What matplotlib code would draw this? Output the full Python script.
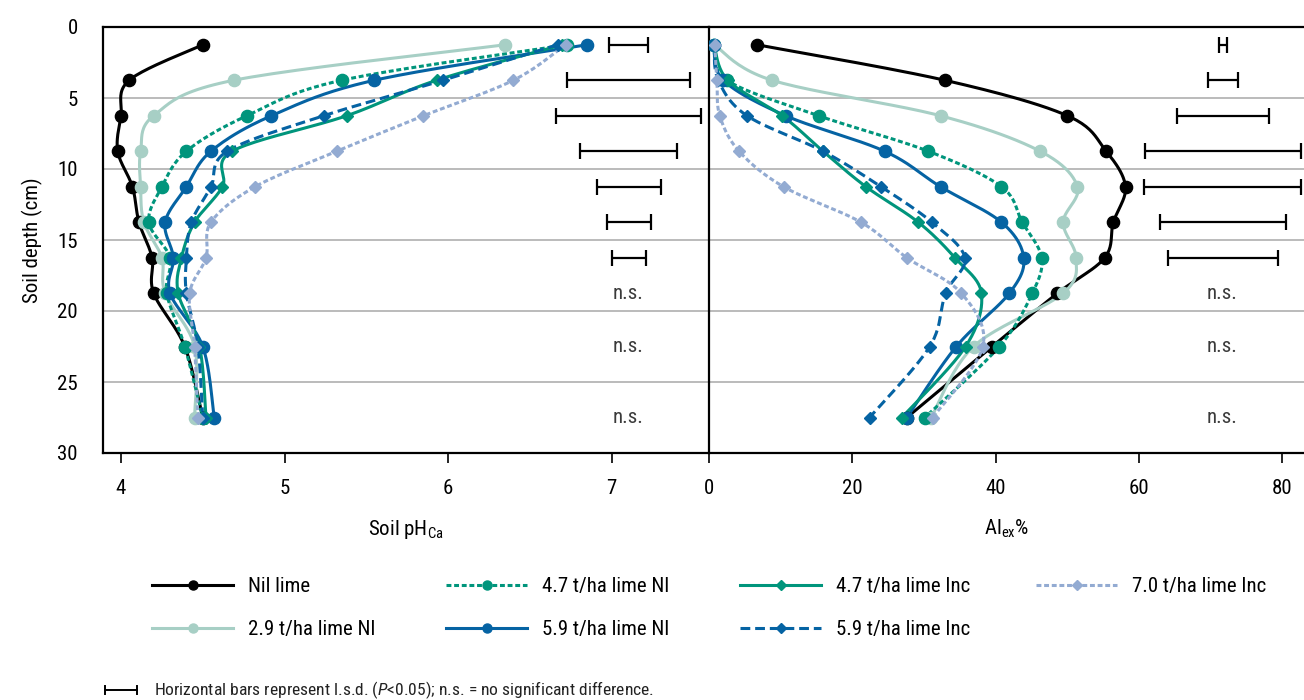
import numpy as np
import matplotlib
matplotlib.use("Agg")
import matplotlib.pyplot as plt
from matplotlib.lines import Line2D
from matplotlib import font_manager

# Prefer a narrow face when one is installed
_names = {f.name for f in font_manager.fontManager.ttflist}
_narrow = [n for n in ("Liberation Sans Narrow", "DejaVu Sans Condensed", "Roboto Condensed",
                       "Open Sans Condensed") if n in _names]
plt.rcParams["font.family"] = _narrow + ["DejaVu Sans"]
plt.rcParams["font.stretch"] = "condensed"
plt.rcParams["mathtext.fontset"] = "custom"
plt.rcParams["mathtext.rm"] = (_narrow + ["DejaVu Sans"])[0]
plt.rcParams["mathtext.it"] = (_narrow + ["DejaVu Sans"])[0] + ":italic"

# Sampling depths (cm)
depth = [1.25, 3.75, 6.25, 8.75, 11.25, 13.75, 16.25, 18.75, 22.5, 27.5]

# Soil pH (CaCl2) profiles
ph_nil = [4.50, 4.05, 4.00, 3.98, 4.07, 4.11, 4.19, 4.20, 4.39, 4.50]
ph_29ni = [6.35, 4.69, 4.20, 4.12, 4.12, 4.14, 4.25, 4.27, 4.45, 4.45]
ph_47ni = [6.73, 5.35, 4.77, 4.40, 4.25, 4.17, 4.30, 4.28, 4.39, 4.50]
ph_59ni = [6.85, 5.55, 4.92, 4.55, 4.40, 4.27, 4.32, 4.30, 4.50, 4.57]
ph_47inc = [6.70, 5.93, 5.38, 4.68, 4.62, 4.45, 4.37, 4.35, 4.48, 4.52]
ph_59inc = [6.67, 5.97, 5.24, 4.65, 4.55, 4.43, 4.40, 4.40, 4.47, 4.50]
ph_70inc = [6.72, 6.40, 5.85, 5.32, 4.82, 4.55, 4.52, 4.42, 4.45, 4.47]

# Exchangeable aluminium (%) profiles
al_nil = [6.7, 32.9, 50.0, 55.4, 58.1, 56.4, 55.2, 48.6, 39.5, 27.6]
al_29ni = [0.7, 8.8, 32.3, 46.2, 51.4, 49.4, 51.2, 49.4, 36.9, 31.0]
al_47ni = [0.7, 2.5, 15.3, 30.6, 40.8, 43.7, 46.4, 45.1, 40.5, 30.1]
al_59ni = [0.7, 2.0, 10.7, 24.5, 32.3, 40.8, 43.9, 41.9, 34.5, 27.6]
al_47inc = [0.7, 2.6, 10.2, 15.9, 21.9, 29.2, 34.3, 38.0, 35.8, 26.9]
al_59inc = [0.7, 1.3, 5.3, 15.9, 24.0, 31.1, 35.7, 33.0, 30.8, 22.4]
al_70inc = [0.8, 1.1, 1.5, 4.2, 10.4, 21.2, 27.6, 35.2, 38.2, 31.2]

# Least significant differences for the upper seven depths
lsd_depth = [1.25, 3.75, 6.25, 8.75, 11.25, 13.75, 16.25]
lsd_ph = [0.24, 0.75, 0.89, 0.59, 0.39, 0.27, 0.21]
lsd_al = [1.1, 4.1, 12.8, 21.8, 21.9, 17.6, 15.4]
ns_depth = [18.75, 22.5, 27.5]

labels = ["Nil lime", "2.9 t/ha lime NI", "4.7 t/ha lime NI", "5.9 t/ha lime NI",
          "4.7 t/ha lime Inc", "5.9 t/ha lime Inc", "7.0 t/ha lime Inc"]

styles = [
    dict(color="#000000", ls="-", marker="o"),
    dict(color="#a7cfc5", ls="-", marker="o"),
    dict(color="#00957c", ls=(0, (1.6, 0.9)), marker="o"),
    dict(color="#0563a3", ls="-", marker="o"),
    dict(color="#00957c", ls="-", marker="D"),
    dict(color="#0563a3", ls=(0, (3.2, 1.6)), marker="D"),
    dict(color="#93abd2", ls=(0, (1.6, 0.9)), marker="D"),
]

ph_series = [ph_nil, ph_29ni, ph_47ni, ph_59ni, ph_47inc, ph_59inc, ph_70inc]
al_series = [al_nil, al_29ni, al_47ni, al_59ni, al_47inc, al_59inc, al_70inc]


def smooth_path(x, y, n=24):
    """Cubic Bezier smoothing through every point (Catmull-Rom style)."""
    p = np.column_stack([x, y]).astype(float)
    ext = np.vstack([p[0], p, p[-1]])
    out = [p[:1]]
    t = np.linspace(0, 1, n)[1:, None]
    for i in range(len(p) - 1):
        p0, p1, p2, p3 = ext[i], ext[i + 1], ext[i + 2], ext[i + 3]
        c1 = p1 + (p2 - p0) / 6.0
        c2 = p2 - (p3 - p1) / 6.0
        seg = ((1 - t) ** 3) * p1 + 3 * ((1 - t) ** 2) * t * c1 + 3 * (1 - t) * t ** 2 * c2 + t ** 3 * p2
        out.append(seg)
    q = np.vstack(out)
    return q[:, 0], q[:, 1]


fig = plt.figure(figsize=(13.04, 7.0), dpi=100)
W, H = 1304.0, 700.0
axL = fig.add_axes([103 / W, 1 - 453 / H, 606 / W, 426 / H])
axR = fig.add_axes([709 / W, 1 - 453 / H, 595 / W, 426 / H], sharey=axL)

FS = 15
ms = {"o": 8.8, "D": 6.6}
for ax, series in ((axL, ph_series), (axR, al_series)):
    for vals, st in zip(series, styles):
        sx, sy = smooth_path(vals, depth)
        ax.plot(sx, sy, color=st["color"], ls=st["ls"], lw=2.2, zorder=3,
                solid_capstyle="butt", dash_capstyle="butt")
        ax.plot(vals, depth, ls="none", marker=st["marker"], ms=ms[st["marker"]],
                color=st["color"], mec=st["color"], zorder=4)
    ax.grid(axis="y", color="#b5b5b5", lw=1.3, zorder=0)
    ax.set_axisbelow(True)
    for s in ("left", "top", "bottom"):
        ax.spines[s].set_color("black")
        ax.spines[s].set_linewidth(1.6)
    ax.spines["right"].set_visible(False)
    ax.tick_params(axis="x", direction="out", length=7, width=1.2, labelsize=FS,
                   pad=12, colors="black")
    ax.tick_params(axis="y", length=0, labelsize=FS, pad=18)

axL.set_ylim(30, 0)
axL.set_yticks([0, 5, 10, 15, 20, 25, 30])
axL.set_xlim(3.89, 7.596)
axL.set_xticks([4, 5, 6, 7])
axR.set_xlim(0, 83)
axR.set_xticks([0, 20, 40, 60, 80])
axR.tick_params(axis="y", labelleft=False)

# l.s.d. bars and non-significance notes
axL.errorbar([7.105] * len(lsd_depth), lsd_depth, xerr=np.array(lsd_ph) / 2, fmt="none",
             ecolor="black", elinewidth=1.6, capsize=5.5, capthick=1.6, zorder=5)
axR.errorbar([71.7] * len(lsd_depth), lsd_depth, xerr=np.array(lsd_al) / 2, fmt="none",
             ecolor="black", elinewidth=1.6, capsize=5.5, capthick=1.6, zorder=5)
for d in ns_depth:
    axL.text(7.10, d, "n.s.", ha="center", va="center", fontsize=FS, color="#3a3a3a")
    axR.text(71.6, d, "n.s.", ha="center", va="center", fontsize=FS, color="#3a3a3a")

axL.set_ylabel("Soil depth (cm)", fontsize=FS, labelpad=10)
axL.set_xlabel("Soil pH$_{\\mathrm{Ca}}$", fontsize=FS, labelpad=14)
axR.set_xlabel("Al$_{\\mathrm{ex}}$%", fontsize=FS, labelpad=14)

# Legend laid out in four columns
col_x = [152 / W, 446 / W, 740 / W, 1036 / W]
groups = [[0, 1], [2, 3], [4, 5], [6]]
for cx, grp in zip(col_x, groups):
    handles = []
    for i in grp:
        st = styles[i]
        handles.append(Line2D([], [], color=st["color"], ls=st["ls"], lw=2.2,
                              marker=st["marker"], ms=6.5 if st["marker"] == "o" else 5.5,
                              mec=st["color"]))
    fig.legend(handles, [labels[i] for i in grp], loc="upper left",
               bbox_to_anchor=(cx, 1 - 577 / H), frameon=False, fontsize=FS,
               handlelength=3.9, handletextpad=0.7, labelspacing=1.15,
               borderpad=0, borderaxespad=0)

# Footnote with l.s.d. symbol
yf = 1 - 690 / H
fig.add_artist(Line2D([105 / W, 137 / W], [yf, yf], color="black", lw=1.4))
for xe in (105 / W, 137 / W):
    fig.add_artist(Line2D([xe, xe], [yf - 4 / H, yf + 4 / H], color="black", lw=1.4))
fig.text(154 / W, yf, "Horizontal bars represent l.s.d. ($\\it{P}$<0.05); n.s. = no significant difference.",
         ha="left", va="center", fontsize=12.6, color="#222222")

fig.savefig("out.png", dpi=100)
